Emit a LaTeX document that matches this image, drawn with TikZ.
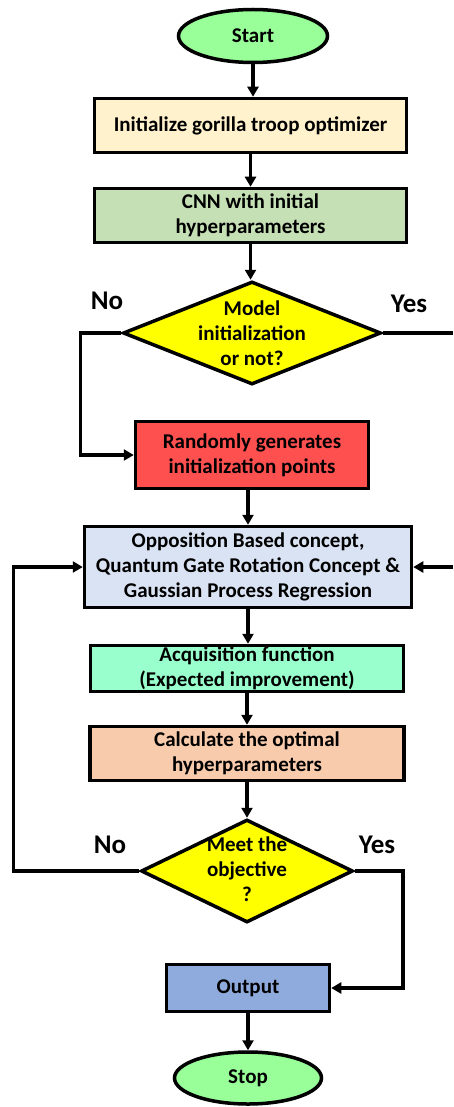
\documentclass[tikz,border=0pt]{standalone}
\usepackage{fontspec}
\setmainfont{Carlito}
\usetikzlibrary{shapes.geometric,arrows.meta}
\definecolor{termgreen}{HTML}{99FF99}
\definecolor{initcream}{HTML}{FFF2CC}
\definecolor{cnngreen}{HTML}{C5E0B4}
\definecolor{decyellow}{HTML}{FFFF00}
\definecolor{randred}{HTML}{FF5050}
\definecolor{oppblue}{HTML}{DAE3F3}
\definecolor{acqaqua}{HTML}{99FFCC}
\definecolor{calcpeach}{HTML}{F8CBAD}
\definecolor{outblue}{HTML}{8FAADC}
\tikzset{
  txt/.style={align=center,inner sep=0pt,font=\fontsize{21}{25}\selectfont\bfseries},
  base/.style={txt,draw=black,line width=3.5pt},
  term/.style={base,ellipse},
  procbox/.style={base,rectangle},
  decide/.style={draw=black,line width=3.5pt,diamond,inner sep=0pt},
  lbl/.style={font=\fontsize{27}{30}\selectfont\bfseries},
  line/.style={line width=3.5pt},
  arr/.style={line,-{Triangle[length=10pt,width=11pt]}}
}

\begin{document}
\begin{tikzpicture}[x=1pt,y=-1pt]
% pixel grid: 453 x 1107, y grows downwards
\useasboundingbox (0,0) rectangle (453,1107);
\node[term,fill=termgreen,minimum width=149,minimum height=53] (start) at (253,36) {Start};
\node[procbox,fill=initcream,minimum width=312,minimum height=54] (init) at (250.5,125.5) {Initialize gorilla troop optimizer};
\node[procbox,fill=cnngreen,minimum width=312,minimum height=54] (cnn) at (250.5,215.5) {CNN with initial\\hyperparameters};
\node[decide,fill=decyellow,minimum width=258,minimum height=103] (dec1) at (252,333) {};
\node[txt] (dec1txt) at (dec1) {Model\\initialization\\or not?};
\node[procbox,fill=randred,minimum width=233,minimum height=67] (rand) at (252,455) {Randomly generates\\initialization points};
\node[procbox,fill=oppblue,minimum width=327,minimum height=81] (opp) at (248,567) {Opposition Based concept,\\Quantum Gate Rotation Concept \&\\Gaussian Process Regression};
\node[procbox,fill=acqaqua,minimum width=313,minimum height=46] (acq) at (247,668.5) {Acquisition function\\(Expected improvement)};
\node[procbox,fill=calcpeach,minimum width=314,minimum height=54] (calc) at (247,753.5) {Calculate the optimal\\hyperparameters};
\node[decide,fill=decyellow,minimum width=212,minimum height=103] (dec2) at (247,871) {};
\node[txt] (dec2txt) at (247,869) {Meet the\\objective\\?};
\node[procbox,fill=outblue,minimum width=163,minimum height=47] (out) at (248,988) {Output};
\node[term,fill=termgreen,minimum width=147,minimum height=52] (stop) at (248,1078) {Stop};
% branch labels
\node[lbl] (no1) at (107,301) {No};
\node[lbl] (yes1) at (409,304) {Yes};
\node[lbl] (no2) at (110,845) {No};
\node[lbl] (yes2) at (377,845) {Yes};
% main flow
\draw[arr] (start) -- (start |- init.north);
\draw[arr] (init) -- (cnn);
\draw[arr] (cnn) -- (cnn |- dec1.north);
\draw[arr] (dec1.west) -- ++(-41,0) |- (rand.west);
\draw[arr] (rand.south -| opp) -- (opp);
\draw[arr] (opp) -- (opp.south |- acq.north);
\draw[arr] (acq) -- (calc);
\draw[arr] (calc) -- (dec2);
\draw[arr] (dec2.west) -- ++(-126,0) |- (opp.west);
\draw[arr] (dec2.east) -- ++(48,0) |- (out.east);
\draw[arr] (out.south -| stop) -- (stop);
% stubs running off the right edge
\coordinate (yesedge) at (453,333);
\coordinate (inedge) at (453,567);
\draw[line] (dec1.east) -- (yesedge);
\draw[arr] (inedge) -- (opp.east);
\end{tikzpicture}
\end{document}
